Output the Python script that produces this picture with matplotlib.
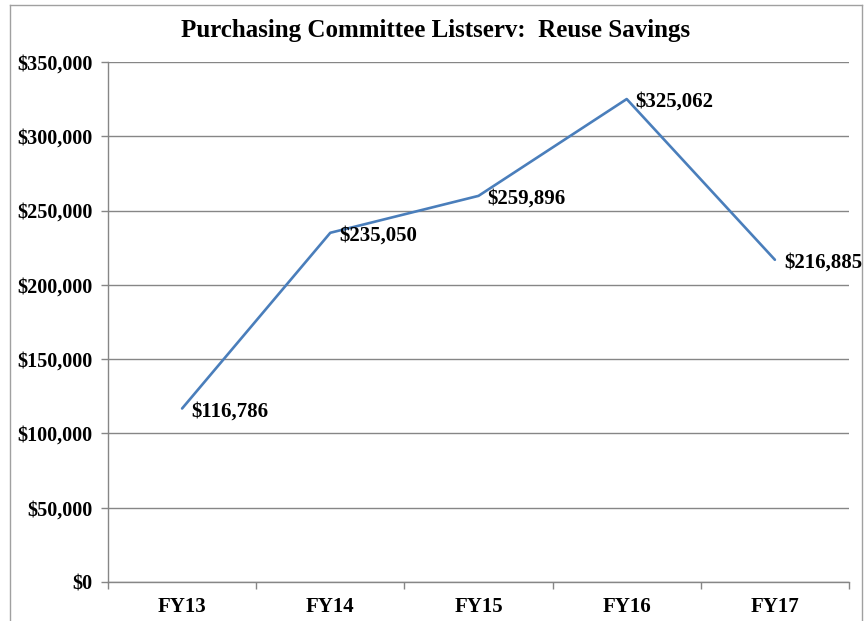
import matplotlib
matplotlib.use("Agg")
import matplotlib.pyplot as plt
from matplotlib.lines import Line2D

categories = ["FY13", "FY14", "FY15", "FY16", "FY17"]
savings = [116786, 235050, 259896, 325062, 216885]
yticks = [0, 50000, 100000, 150000, 200000, 250000, 300000, 350000]
title = "Purchasing Committee Listserv:  Reuse Savings"

plt.rcParams['font.family'] = ['Liberation Serif', 'DejaVu Serif']

W, H = 865, 621
fig = plt.figure(figsize=(W/100, H/100), dpi=100)
ax = fig.add_axes([108/W, 1-582/H, (849-108)/W, (582-62)/H])

x = list(range(len(categories)))
ax.plot(x, savings, color='#4a7ebb', lw=1.9, solid_capstyle='round')
for xi, v in zip(x, savings):
    ax.annotate(f"${v:,}", (xi, v), xytext=(6.5, -2), textcoords='offset points',
                ha='left', va='center', fontsize=15, fontweight='bold')

ax.set_xlim(-0.5, len(categories)-0.5)
ax.set_ylim(0, 350000)
ax.set_yticks(yticks)
ax.set_yticklabels([f"${v:,}" for v in yticks], fontsize=14.5, fontweight='bold')
ax.set_xticks(x)
ax.set_xticklabels(categories, fontsize=15, fontweight='bold')
ax.tick_params(axis='x', length=0, pad=11)
ax.set_xticks([i - 0.5 for i in range(len(categories)+1)], minor=True)
ax.tick_params(axis='x', which='minor', length=5, color='#868686', width=1)
ax.tick_params(axis='y', length=5, color='#868686', width=1, pad=6)
ax.yaxis.grid(True, color='#868686', lw=1)
ax.set_axisbelow(True)
for s in ['top', 'right']:
    ax.spines[s].set_visible(False)
for s in ['left', 'bottom']:
    ax.spines[s].set_color('#868686')
    ax.spines[s].set_linewidth(1)

fig.text(436/W, 1-31/H, title, ha='center', va='center', fontsize=18, fontweight='bold')

# outer chart border
top = 1 - 5/H
fig.add_artist(Line2D([10/W, 10/W], [0, top], color='#a0a0a0', lw=1, transform=fig.transFigure))
fig.add_artist(Line2D([10/W, 862/W], [top, top], color='#a0a0a0', lw=1, transform=fig.transFigure))
fig.add_artist(Line2D([862/W, 862/W], [0, top], color='#a0a0a0', lw=1, transform=fig.transFigure))

fig.savefig("out.png", dpi=100)
